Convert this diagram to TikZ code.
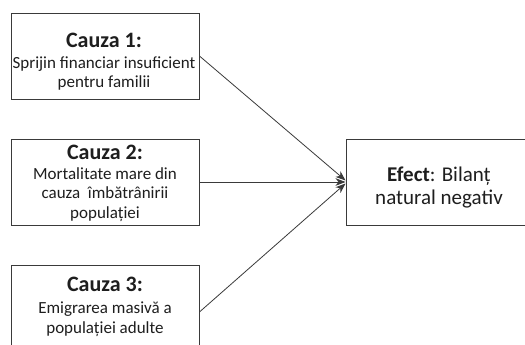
\documentclass[tikz,border=0pt]{standalone}
\usepackage{fontspec}
\setmainfont{Carlito}
\usetikzlibrary{arrows.meta}
\definecolor{boxline}{HTML}{3A3A3A}
\definecolor{ink}{HTML}{1E1E1E}
\newcommand{\causetitle}[1]{{\fontsize{22}{24}\selectfont\bfseries #1}}
\begin{document}
\begin{tikzpicture}[x=1pt,y=-1pt,
  causebox/.style={draw=boxline, line width=0.9pt, rectangle,
    minimum width=188pt, minimum height=86pt, inner sep=0pt},
  causetext/.style={anchor=base, align=center, inner sep=0pt, text=ink,
    font=\fontsize{17}{19.5}\selectfont},
  effecttext/.style={causetext, font=\fontsize{21}{23}\selectfont},
  link/.style={draw=boxline, line width=0.8pt,
    -{Stealth[length=10pt, width=7.5pt, inset=3pt]}}]
  \useasboundingbox (0,0) rectangle (525,345);
  \clip (0,0) rectangle (525,345);
  \fill[white] (0,0) rectangle (525,345);

  % cause boxes
  \node[causebox] (c1) at (105,56) {};
  \node[causebox] (c2) at (105,182) {};
  \node[causebox, minimum height=94pt] (c3) at (105,312) {};
  % effect box
  \node[causebox, minimum width=186pt] (e) at (439,182) {};

  % texts, placed by the baseline of their last line
  \node[causetext] (t1) at (104,88)
    {\causetitle{Cauza 1:}\\[1.5pt]Sprijin financiar insuficient\\pentru familii};
  \node[causetext] (t2) at (105,218)
    {\causetitle{Cauza 2:}\\Mortalitate mare din\\cauza\ \ îmbătrânirii\\populației};
  \node[causetext] (t3) at (105,333)
    {\causetitle{Cauza 3:}\\[2.5pt]Emigrarea masivă a\\populației adulte};
  \node[effecttext] (te) at (439,204)
    {\textbf{Efect}: Bilanț\\natural negativ};

  \draw[link] (c1.east) -- ([yshift=1.5pt]e.west);
  \draw[link] (c2.east) -- (e.west);
  \draw[link] (c3.east) -- ([yshift=-1.5pt]e.west);
\end{tikzpicture}
\end{document}
